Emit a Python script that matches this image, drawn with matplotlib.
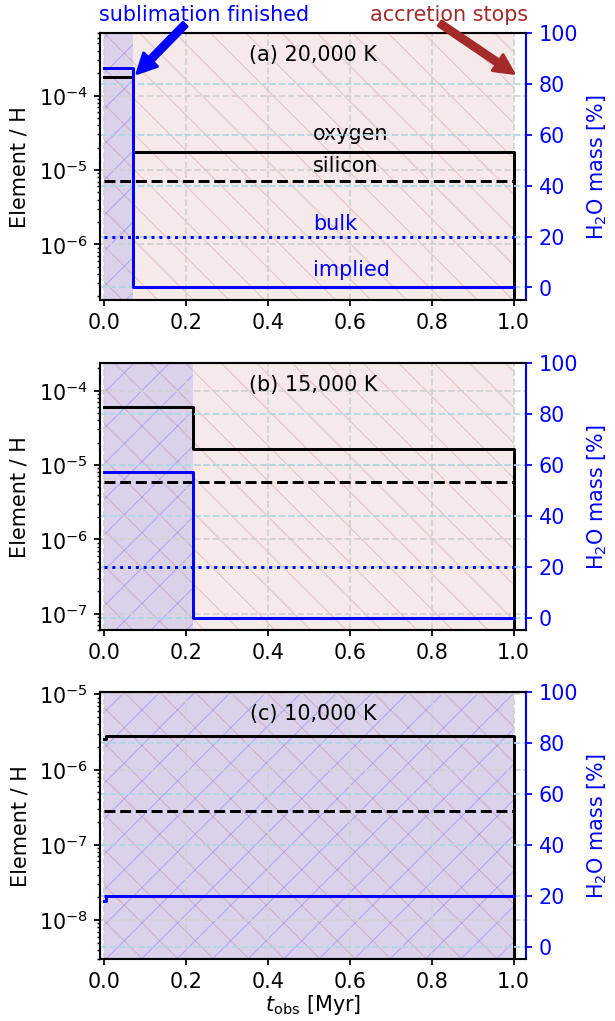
import numpy as np
import matplotlib
matplotlib.use("Agg")
import matplotlib.pyplot as plt

# values
panel_labels = ['(a) 20,000 K', '(b) 15,000 K', '(c) 10,000 K']
t_steps = [[0.0, 0.07, 1.0], [0.0, 0.217, 1.0], [0.0, 0.003, 1.0]]
oxygen = [[1.75e-4, 1.75e-5, 0.0], [5.96e-5, 1.64e-5, 0.0], [2.55e-6, 2.79e-6, 0.0]]
silicon = [[7.1e-6, 7.1e-6, 0.0], [5.96e-6, 5.96e-6, 0.0], [2.79e-7, 2.79e-7, 0.0]]
implied = [[86, 0, 0], [57, 0, 0], [18, 20, 20]]
bulk = [20, 20, 20]
t_sublimated = [0.07, 0.217, 1.0]
t_accretion = 1.0
ylims = [(1.78e-7, 7.0e-4), (6.0e-8, 2.36e-4), (2.98e-9, 1.077e-5)]

DPI = 213
plt.rcParams.update({
    'font.size': 7,
    'axes.linewidth': 0.7,
    'lines.linewidth': 1.0,
    'hatch.linewidth': 0.35,
    'axes.labelpad': 3.0,
    'xtick.major.size': 1.9, 'xtick.major.width': 0.6, 'xtick.major.pad': 2.2,
    'ytick.major.size': 1.9, 'ytick.major.width': 0.6, 'ytick.major.pad': 2.2,
    'xtick.minor.size': 1.1, 'xtick.minor.width': 0.5,
    'ytick.minor.size': 1.1, 'ytick.minor.width': 0.5,
})

fig = plt.figure(figsize=(615.4 / DPI, 1021.4 / DPI), dpi=DPI)
bottoms = [300.5, 630.5, 959.5]

for i in range(3):
    t = t_steps[i]
    ax = fig.add_axes([100 / 615, 1 - bottoms[i] / 1021, 426 / 615, 267.5 / 1021])
    ax.set_yscale('log')

    # accretion (brown) and sublimation (blue) phases
    ax.axvspan(0, t_accretion, facecolor=(0.647, 0.165, 0.165, 0.1),
               edgecolor=(0.647, 0.165, 0.165, 0.2), hatch='\\\\', lw=0)
    ax.axvspan(0, t_sublimated[i], facecolor=(0, 0, 1, 0.1),
               edgecolor=(0, 0, 1, 0.2), hatch='//', lw=0)

    ax.step(t, oxygen[i], where='post', color='k')
    ax.step(t, silicon[i], where='post', color='k', ls='--')
    ax.set_ylim(ylims[i])
    ax.set_xlim(-0.0105, 1.031)
    ax.set_xticks(np.arange(0, 1.01, 0.2))
    ax.grid(True, color='0.82', ls='--', lw=0.6)
    ax.set_ylabel('Element / H')
    ax.text(0.5, 0.955, panel_labels[i], transform=ax.transAxes, ha='center', va='top')

    ax2 = ax.twinx()
    ax2.step(t, implied[i], where='post', color='blue')
    ax2.plot([t[0], t[-1]], [bulk[i], bulk[i]], color='blue', ls=':')
    ax2.set_ylim(-5, 100)
    ax2.set_yticks(np.arange(0, 101, 20))
    ax2.grid(True, axis='y', color='lightblue', ls='--', lw=0.6)
    ax2.set_ylabel('H$_2$O mass [%]', color='blue', labelpad=2.6)
    ax2.tick_params(axis='y', colors='blue')
    ax2.spines['right'].set_color('blue')

    if i == 0:
        ax.text(0.51, 2.56e-5, 'oxygen', va='baseline')
        ax.text(0.51, 9.6e-6, 'silicon', va='baseline')
        ax2.text(0.51, 22.7, 'bulk', color='blue', va='baseline')
        ax2.text(0.51, 4.5, 'implied', color='blue', va='baseline')

        ax2.annotate('', xy=(0.08, 84), xytext=(0.197, 103.2), annotation_clip=False,
                     arrowprops=dict(facecolor='blue', edgecolor='blue',
                                     width=2, headwidth=6.5, headlength=6.5))
        ax2.text(0.244, 104.8, 'sublimation finished', color='blue',
                 ha='center', va='baseline', clip_on=False)
        ax2.annotate('', xy=(1.0, 84), xytext=(0.82, 103.6), annotation_clip=False,
                     arrowprops=dict(facecolor='brown', edgecolor='brown',
                                     width=2, headwidth=6.5, headlength=6.5))
        ax2.text(0.841, 104.8, 'accretion stops', color='brown',
                 ha='center', va='baseline', clip_on=False)

    if i == 2:
        ax.set_xlabel(r'$t_{\rm obs}$ [Myr]', labelpad=0.5)

fig.savefig('out.png', dpi=DPI)
